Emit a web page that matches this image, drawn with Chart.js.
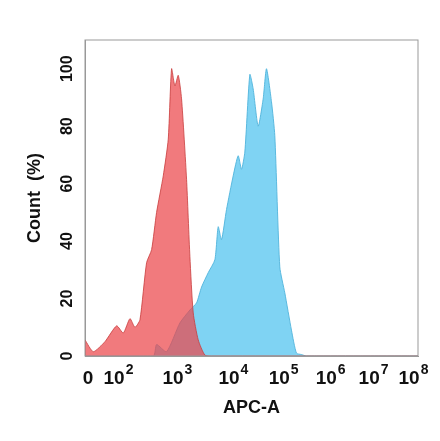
<!doctype html>
<html>
<head>
<meta charset="utf-8">
<style>html,body{margin:0;background:#fff}#wrap{width:440px;height:441px}</style>
</head>
<body>
<div id="wrap"><canvas id="chart"></canvas></div>
<script src="https://cdn.jsdelivr.net/npm/chart.js@4.4.0/dist/chart.umd.min.js"></script>
<script>
// x is in display channels 0..1000 of the biexponential axis
const xTicks = [9, 99, 276, 444, 595, 736, 865, 985];
const xTickBase = ['0', '10', '10', '10', '10', '10', '10', '10'];
const xTickExp = ['', '2', '3', '4', '5', '6', '7', '8'];
const yTicks = [0, 20, 40, 60, 80, 100];

const redX = [0, 25, 60, 95, 115, 135, 150, 165, 185, 200, 215, 235, 250, 260, 270, 280, 290, 305, 315, 325, 340, 360, 380, 1000];
const redY = [5.6, 1.5, 5, 10.5, 8, 13, 10, 12.6, 32.5, 37, 50, 62.7, 75.5, 100, 94, 97.7, 89.5, 61.5, 34.7, 15, 5.6, 0.3, 0, 0];
const blueX = [0, 205, 215, 245, 285, 315, 335, 350, 370, 390, 400, 410, 425, 445, 460, 470, 480, 495, 505, 520, 535, 545, 560, 570, 585, 600, 620, 635, 650, 665, 1000];
const blueY = [0, 0, 4, 1.5, 11.5, 16, 18.5, 24, 29, 33.5, 45, 40.5, 51, 62.7, 69.7, 65, 71, 98, 93, 80, 89.5, 100, 88.5, 76.7, 31, 22, 9, 1, 0.5, 0, 0];

const pts = (xs, ys) => xs.map((x, i) => ({x: x, y: ys[i]}));

const FAM = 'Liberation Sans, Arial, sans-serif';
const boldFont = {family: FAM, size: 18, weight: 'bold'};

const axisLabels = {
  id: 'axisLabels',
  afterDraw(chart) {
    const c = chart.ctx, y = chart.scales.y, x = chart.scales.x;
    c.save();
    c.fillStyle = '#111';
    c.font = 'bold 16px ' + FAM;
    c.textAlign = 'center';
    c.textBaseline = 'middle';
    yTicks.forEach(v => {
      c.save();
      c.translate(y.right - 17, y.getPixelForValue(v));
      c.rotate(-Math.PI / 2);
      c.fillText(String(v), 0, 0);
      c.restore();
    });
    c.textBaseline = 'alphabetic';
    c.textAlign = 'left';
    xTicks.forEach((v, i) => {
      c.font = 'bold 19px ' + FAM;
      const bw = c.measureText(xTickBase[i]).width;
      c.font = 'bold 14px ' + FAM;
      const ew = c.measureText(xTickExp[i]).width;
      const x0 = x.getPixelForValue(v) - (bw + ew) / 2;
      c.font = 'bold 19px ' + FAM;
      c.fillText(xTickBase[i], x0, 384);
      c.font = 'bold 14px ' + FAM;
      c.fillText(xTickExp[i], x0 + bw + 1, 374);
    });
    const a = chart.chartArea;
    c.strokeStyle = '#999';
    c.lineWidth = 1;
    c.strokeRect(a.left, a.top, a.right - a.left, a.bottom - a.top);
    c.restore();
  }
};

new Chart(document.getElementById('chart'), {
  type: 'line',
  data: {
    datasets: [
      {data: pts(redX, redY), order: 0, fill: 'origin', backgroundColor: 'rgba(235,70,75,0.72)', borderColor: 'rgba(200,60,60,0.8)', borderWidth: 1, pointRadius: 0, tension: 0.2},
      {data: pts(blueX, blueY), order: 1, fill: 'origin', backgroundColor: 'rgba(95,200,240,0.8)', borderColor: 'rgba(80,180,220,0.9)', borderWidth: 1, pointRadius: 0, tension: 0.2}
    ]
  },
  plugins: [axisLabels],
  options: {
    responsive: true,
    maintainAspectRatio: false,
    animation: false,
    layout: {padding: {top: 40, right: 22, left: 0, bottom: 0}},
    plugins: {legend: {display: false}, tooltip: {enabled: false}},
    scales: {
      x: {
        type: 'linear', min: 0, max: 1000,
        afterBuildTicks: s => { s.ticks = xTicks.map(v => ({value: v})); },
        afterFit: s => { s.height = 85; },
        grid: {display: false, tickLength: 4},
        border: {color: '#999'},
        ticks: {display: false},
        title: {display: true, text: 'APC-A', color: '#111', font: boldFont, padding: {top: 0, bottom: 22}}
      },
      y: {
        min: 0, max: 110,
        afterBuildTicks: s => { s.ticks = yTicks.map(v => ({value: v})); },
        afterFit: s => { s.width = 85; },
        grid: {display: false, tickLength: 4},
        border: {color: '#999'},
        ticks: {display: true, color: 'rgba(0,0,0,0)', font: {size: 16}},
        title: {display: true, text: 'Count  (%)', color: '#111', font: boldFont, padding: {top: 24, bottom: 4}}
      }
    }
  }
});
</script>
</body>
</html>
